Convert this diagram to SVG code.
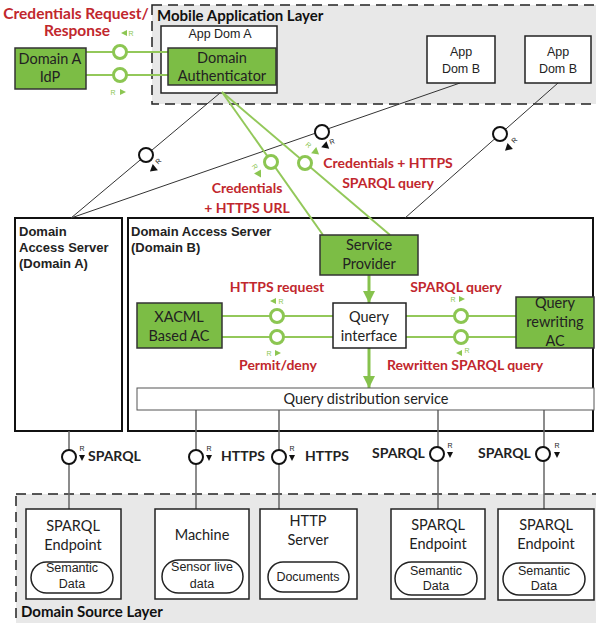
<svg xmlns="http://www.w3.org/2000/svg" width="596" height="623" viewBox="0 0 596 623">
<defs>
<style>
.layer{fill:#e8e8e8;stroke:#222;stroke-width:1.5;stroke-dasharray:10 6}
.gbox{fill:#7cbd45;stroke:#333;stroke-width:1.5}
.wbox{fill:#fff;stroke:#222;stroke-width:1.5}
.srv{fill:#fff;stroke:#111;stroke-width:2}
.stad{fill:#fff;stroke:#222;stroke-width:1.5}
.gl{stroke:#93c85a;stroke-width:2;fill:none}
.ga{stroke:#86c24d;stroke-width:3;fill:none}
.gc{fill:#fff;stroke:#8cc652;stroke-width:3}
.bc{fill:#fff;stroke:#111;stroke-width:2}
.bl{stroke:#333;stroke-width:1;fill:none}
.gr{stroke:#666;stroke-width:1.5;fill:none}
.t{font-family:Lato,"Open Sans","Liberation Sans",sans-serif;font-size:14.5px;fill:#222;text-anchor:middle}
.a{font-family:"Liberation Sans",Arial,sans-serif;font-size:12.5px;fill:#222;text-anchor:middle}
.red{font-family:Lato,"Open Sans","Liberation Sans",sans-serif;font-size:14px;font-weight:bold;fill:#c1272d;text-anchor:middle}
.hdr{font-family:Lato,"Open Sans","Liberation Sans",sans-serif;font-size:15px;font-weight:bold;fill:#111}
.ab{font-family:"Liberation Sans",Arial,sans-serif;font-size:13px;font-weight:bold;fill:#222}
.pl{font-family:Lato,"Open Sans","Liberation Sans",sans-serif;font-size:14px;font-weight:bold;fill:#222}
.rg{font-family:"Liberation Sans",Arial,sans-serif;font-size:7px;fill:#8cc652;text-anchor:middle}
.rb{font-family:"Liberation Sans",Arial,sans-serif;font-size:7px;fill:#222;text-anchor:middle}
.tg{fill:#8cc652}
.tb{fill:#111}
</style>
<marker id="garr" viewBox="0 0 10 10" refX="10" refY="5" markerWidth="12" markerHeight="12" markerUnits="userSpaceOnUse" orient="auto">
<path d="M0,0 L10,5 L0,10 z" fill="#86c24d"/>
</marker>
</defs>

<!-- Layers -->
<g id="mobile-layer">
<rect class="layer" x="152" y="5" width="450" height="99"/>
<text class="hdr" x="157" y="21">Mobile Application Layer</text>
</g>
<g id="source-layer">
<rect class="layer" x="16" y="494" width="586" height="140"/>
<text class="hdr" x="21" y="617">Domain Source Layer</text>
</g>

<!-- Container nodes -->
<g id="das-a">
<rect class="srv" x="15" y="218" width="107" height="213"/>
<text class="ab" x="19" y="236">Domain</text>
<text class="ab" x="19" y="252">Access Server</text>
<text class="ab" x="19" y="268">(Domain A)</text>
</g>
<g id="das-b">
<rect class="srv" x="128" y="218" width="465" height="213"/>
<text class="ab" x="131" y="236">Domain Access Server</text>
<text class="ab" x="131" y="252">(Domain B)</text>
</g>
<g id="app-dom-a">
<rect class="wbox" x="161" y="26" width="116" height="67"/>
<text class="a" x="220" y="38">App Dom A</text>
</g>

<!-- Connectors -->
<g id="connectors">
<line class="gl" x1="86" y1="52" x2="168" y2="52"/>
<line class="gl" x1="86" y1="75" x2="168" y2="75"/>
<line class="bl" x1="220" y1="93" x2="71" y2="218"/>
<line class="bl" x1="71" y1="218" x2="460" y2="83"/>
<line class="bl" x1="558" y1="83" x2="405" y2="218"/>
<line class="gl" x1="222" y1="92" x2="323" y2="235"/>
<line class="gl" x1="222" y1="92" x2="390" y2="235"/>
<line class="gl" x1="222" y1="316" x2="333" y2="316"/>
<line class="gl" x1="222" y1="337" x2="333" y2="337"/>
<line class="gl" x1="406" y1="316" x2="516" y2="316"/>
<line class="gl" x1="406" y1="337" x2="516" y2="337"/>
<line class="ga" x1="369" y1="275" x2="369" y2="303" marker-end="url(#garr)"/>
<line class="ga" x1="369" y1="348" x2="369" y2="388" marker-end="url(#garr)"/>
<line class="gr" x1="69" y1="431" x2="69" y2="509"/>
<line class="gr" x1="196" y1="410" x2="196" y2="509"/>
<line class="gr" x1="279" y1="410" x2="279" y2="509"/>
<line class="gr" x1="438" y1="410" x2="438" y2="509"/>
<line class="gr" x1="544" y1="410" x2="544" y2="509"/>

<circle class="gc" cx="120" cy="52" r="6.5"/>
<circle class="gc" cx="120" cy="75" r="6.5"/>
<circle class="bc" cx="146" cy="155" r="7"/>
<circle class="bc" cx="322" cy="132" r="7"/>
<circle class="bc" cx="500" cy="134" r="7"/>
<circle class="gc" cx="271" cy="162" r="6.5"/>
<circle class="gc" cx="305" cy="163" r="6.5"/>
<circle class="gc" cx="277" cy="316" r="6.5"/>
<circle class="gc" cx="277" cy="337" r="6.5"/>
<circle class="gc" cx="461" cy="316" r="6.5"/>
<circle class="gc" cx="461" cy="337" r="6.5"/>
<circle class="bc" cx="69" cy="457" r="7"/>
<circle class="bc" cx="196" cy="457" r="7"/>
<circle class="bc" cx="279" cy="457" r="7"/>
<circle class="bc" cx="437" cy="454" r="7"/>
<circle class="bc" cx="543" cy="454" r="7"/>

<polygon class="tg" points="121,33 127,30 127,36"/><text class="rg" x="131" y="36">R</text>
<text class="rg" x="113" y="95">R</text><polygon class="tg" points="126,92 120,89 120,95"/>

<g transform="translate(153,169) rotate(140)"><polygon class="tb" points="4,0 -3,-4 -3,4"/></g>
<text class="rb" transform="translate(160,163) rotate(-45)">R</text>
<g transform="translate(325,146) rotate(160)"><polygon class="tb" points="4,0 -3,-4 -3,4"/></g>
<text class="rb" transform="translate(333,144) rotate(-20)">R</text>
<g transform="translate(508,148) rotate(138)"><polygon class="tb" points="4,0 -3,-4 -3,4"/></g>
<text class="rb" transform="translate(516,142) rotate(-45)">R</text>

<text class="rg" transform="translate(253,168) rotate(55)">R</text>
<g transform="translate(259,174) rotate(60)"><polygon class="tg" points="4,0 -3,-4 -3,4"/></g>
<text class="rg" transform="translate(307,147) rotate(40)">R</text>
<g transform="translate(316,152) rotate(40)"><polygon class="tg" points="4,0 -3,-4 -3,4"/></g>

<polygon class="tg" points="270,301 276,298 276,304"/><text class="rg" x="281" y="304">R</text>
<text class="rg" x="269" y="356">R</text><polygon class="tg" points="281,353 275,350 275,356"/>
<text class="rg" x="453" y="302">R</text><polygon class="tg" points="465,299 459,296 459,302"/>
<polygon class="tg" points="456,353 462,350 462,356"/><text class="rg" x="467" y="353">R</text>

<text class="rb" x="82" y="451">R</text><polygon class="tb" points="79,455 85,455 82,461"/>
<text class="rb" x="209" y="451">R</text><polygon class="tb" points="206,455 212,455 209,461"/>
<text class="rb" x="292" y="451">R</text><polygon class="tb" points="289,455 295,455 292,461"/>
<text class="rb" x="450" y="448">R</text><polygon class="tb" points="447,452 453,452 450,458"/>
<text class="rb" x="557" y="448">R</text><polygon class="tb" points="554,452 560,452 557,458"/>

<text class="red" style="font-size:15.5px" x="76" y="19">Credentials Request/</text>
<text class="red" style="font-size:15.5px" x="77" y="36">Response</text>
<text class="red" x="247" y="193">Credentials</text>
<text class="red" x="247" y="213">+ HTTPS URL</text>
<text class="red" x="388" y="168">Credentials + HTTPS</text>
<text class="red" x="388" y="188">SPARQL query</text>
<text class="red" x="277" y="292">HTTPS request</text>
<text class="red" x="278" y="370">Permit/deny</text>
<text class="red" x="456" y="292">SPARQL query</text>
<text class="red" x="465" y="370">Rewritten SPARQL query</text>

<text class="pl" x="88" y="461">SPARQL</text>
<text class="pl" x="221" y="461">HTTPS</text>
<text class="pl" x="305" y="461">HTTPS</text>
<text class="pl" x="372" y="458">SPARQL</text>
<text class="pl" x="478" y="458">SPARQL</text>
</g>

<!-- Nodes -->
<g id="domain-authenticator">
<rect class="gbox" x="168" y="48" width="108" height="37"/>
<text class="t" x="222" y="63">Domain</text>
<text class="t" x="222" y="81">Authenticator</text>
</g>
<g id="domain-a-idp">
<rect class="gbox" x="15" y="48" width="71" height="41"/>
<text class="t" x="50" y="64">Domain A</text>
<text class="t" x="50" y="82">IdP</text>
</g>
<g id="app-dom-b-1">
<rect class="wbox" x="427" y="36" width="68" height="47"/>
<text class="a" x="461" y="56">App</text>
<text class="a" x="461" y="73">Dom B</text>
</g>
<g id="app-dom-b-2">
<rect class="wbox" x="525" y="36" width="66" height="47"/>
<text class="a" x="558" y="56">App</text>
<text class="a" x="558" y="73">Dom B</text>
</g>
<g id="service-provider">
<rect class="gbox" x="320" y="235" width="98" height="40"/>
<text class="t" x="369" y="250">Service</text>
<text class="t" x="369" y="269">Provider</text>
</g>
<g id="xacml">
<rect class="gbox" x="137" y="303" width="85" height="45"/>
<text class="t" x="179" y="322">XACML</text>
<text class="t" x="179" y="341">Based AC</text>
</g>
<g id="query-interface">
<rect class="wbox" x="333" y="303" width="73" height="45"/>
<text class="t" x="369" y="322">Query</text>
<text class="t" x="369" y="341">interface</text>
</g>
<g id="query-rewriting">
<rect class="gbox" x="516" y="297" width="78" height="51"/>
<text class="t" x="555" y="308">Query</text>
<text class="t" x="555" y="327">rewriting</text>
<text class="t" x="555" y="346">AC</text>
</g>
<g id="query-distribution">
<rect x="137" y="388" width="457" height="22" fill="#fff" stroke="#555" stroke-width="1"/>
<text class="t" x="366" y="404">Query distribution service</text>
</g>

<g id="src-sparql-1">
<rect class="wbox" x="26" y="509" width="95" height="90"/>
<text class="t" x="73" y="531">SPARQL</text>
<text class="t" x="73" y="550">Endpoint</text>
<rect class="stad" x="31" y="562" width="82" height="31" rx="15.5"/>
<text class="a" x="72" y="572">Semantic</text>
<text class="a" x="72" y="588">Data</text>
</g>
<g id="src-machine">
<rect class="wbox" x="155" y="509" width="94" height="90"/>
<text class="t" x="202" y="540">Machine</text>
<rect class="stad" x="162" y="560" width="81" height="33" rx="16.5"/>
<text class="a" x="202" y="571">Sensor live</text>
<text class="a" x="202" y="588">data</text>
</g>
<g id="src-http">
<rect class="wbox" x="260" y="509" width="97" height="90"/>
<text class="t" x="308" y="526">HTTP</text>
<text class="t" x="308" y="545">Server</text>
<rect class="stad" x="268" y="562" width="81" height="30" rx="15"/>
<text class="a" x="308" y="581">Documents</text>
</g>
<g id="src-sparql-2">
<rect class="wbox" x="391" y="509" width="94" height="90"/>
<text class="t" x="438" y="530">SPARQL</text>
<text class="t" x="438" y="549">Endpoint</text>
<rect class="stad" x="395" y="562" width="82" height="33" rx="16.5"/>
<text class="a" x="436" y="575">Semantic</text>
<text class="a" x="436" y="590">Data</text>
</g>
<g id="src-sparql-3">
<rect class="wbox" x="498" y="509" width="96" height="91"/>
<text class="t" x="546" y="530">SPARQL</text>
<text class="t" x="546" y="549">Endpoint</text>
<rect class="stad" x="503" y="563" width="82" height="32" rx="16"/>
<text class="a" x="544" y="575">Semantic</text>
<text class="a" x="544" y="590">Data</text>
</g>
</svg>
